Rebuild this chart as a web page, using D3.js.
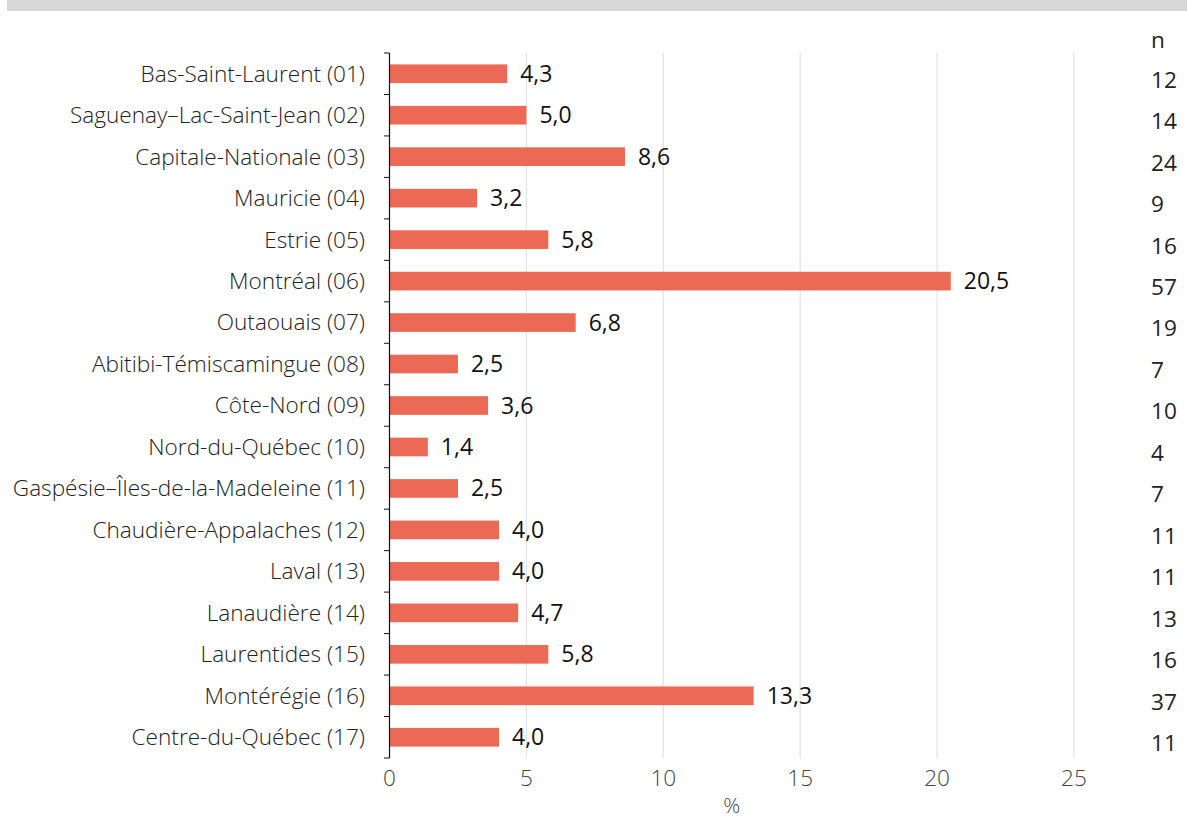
<!DOCTYPE html>
<html lang="fr">
<head>
<meta charset="utf-8">
<title>Régions</title>
<script src="https://cdn.jsdelivr.net/npm/d3@7"></script>
<style>
  body { margin: 0; background: #fff; font-family: "Open Sans", sans-serif; }
</style>
</head>
<body>
<div id="chart"></div>
<script>
// data
var regions = ['Bas-Saint-Laurent (01)', 'Saguenay\u2013Lac-Saint-Jean (02)', 'Capitale-Nationale (03)',
  'Mauricie (04)', 'Estrie (05)', 'Montréal (06)', 'Outaouais (07)', 'Abitibi-Témiscamingue (08)',
  'Côte-Nord (09)', 'Nord-du-Québec (10)', 'Gaspésie\u2013Îles-de-la-Madeleine (11)',
  'Chaudière-Appalaches (12)', 'Laval (13)', 'Lanaudière (14)', 'Laurentides (15)',
  'Montérégie (16)', 'Centre-du-Québec (17)'];
var pct = [4.3, 5.0, 8.6, 3.2, 5.8, 20.5, 6.8, 2.5, 3.6, 1.4, 2.5, 4.0, 4.0, 4.7, 5.8, 13.3, 4.0];
var counts = [12, 14, 24, 9, 16, 57, 19, 7, 10, 4, 7, 11, 11, 13, 16, 37, 11];
var xTicks = [0, 5, 10, 15, 20, 25];

var width = 1187, height = 821;
var fs = 22.6;
var svg = d3.select('#chart').append('svg').attr('width', width).attr('height', height);

// bandeau gris en haut
svg.append('rect').attr('x', 7).attr('y', 0).attr('width', width - 7).attr('height', 11).attr('fill', '#d6d7d6');

var x = d3.scaleLinear().domain([0, 25]).range([389.5, 1074]);
var y = d3.scaleBand().domain(regions).range([53, 758]).paddingInner(0.55).paddingOuter(0.275);

// grille
svg.append('g').selectAll('line').data(xTicks.slice(1)).enter().append('line')
  .attr('x1', function(d) { return x(d); }).attr('x2', function(d) { return x(d); })
  .attr('y1', 53).attr('y2', 758)
  .attr('stroke', '#e3e3e3').attr('stroke-width', 1.3);

// barres
svg.append('g').selectAll('rect').data(pct).enter().append('rect')
  .attr('x', x(0))
  .attr('y', function(d, i) { return y(regions[i]); })
  .attr('width', function(d) { return x(d) - x(0); })
  .attr('height', y.bandwidth())
  .attr('fill', '#ec6955');

// valeurs
svg.append('g').selectAll('text').data(pct).enter().append('text')
  .attr('x', function(d) { return x(d) + 13; })
  .attr('y', function(d, i) { return y(regions[i]) + y.bandwidth() / 2; })
  .attr('dy', '0.35em')
  .attr('font-size', 23).attr('fill', '#111')
  .text(function(d) { return d.toFixed(1).replace('.', ','); });

// axe y
var bounds = d3.range(regions.length + 1).map(function(i) { return 53 + i * (705 / regions.length); });
svg.append('line').attr('x1', 389.5).attr('x2', 389.5).attr('y1', 53).attr('y2', 758).attr('stroke', '#111').attr('stroke-width', 1.2);
svg.append('g').selectAll('line').data(bounds).enter().append('line')
  .attr('x1', 384).attr('x2', 389.5)
  .attr('y1', function(d) { return d; }).attr('y2', function(d) { return d; })
  .attr('stroke', '#111').attr('stroke-width', 1);

svg.append('g').selectAll('text').data(regions).enter().append('text')
  .attr('x', 365)
  .attr('y', function(d) { return y(d) + y.bandwidth() / 2; })
  .attr('dy', '0.35em')
  .attr('text-anchor', 'end')
  .attr('font-size', fs).attr('font-weight', 300).attr('fill', '#222')
  .text(function(d) { return d; });

// axe x
svg.append('g').selectAll('text').data(xTicks).enter().append('text')
  .attr('x', function(d) { return x(d); })
  .attr('y', 786)
  .attr('text-anchor', 'middle')
  .attr('font-size', fs).attr('font-weight', 300).attr('fill', '#444')
  .text(function(d) { return d; });

svg.append('text').attr('x', (x(0) + x(25)) / 2).attr('y', 813)
  .attr('text-anchor', 'middle').attr('font-size', 21).attr('font-weight', 300).attr('fill', '#444')
  .text('%');

// colonne n
svg.append('text').attr('x', 1151).attr('y', 48)
  .attr('font-size', fs).attr('fill', '#222').text('n');
svg.append('g').selectAll('text').data(counts).enter().append('text')
  .attr('x', 1151)
  .attr('y', function(d, i) { return y(regions[i]) + y.bandwidth() / 2 + 6; })
  .attr('dy', '0.35em')
  .attr('font-size', fs).attr('fill', '#222')
  .text(function(d) { return d; });
</script>
</body>
</html>
